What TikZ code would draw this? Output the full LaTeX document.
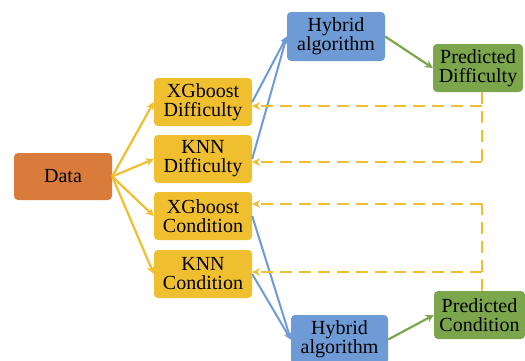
\documentclass[tikz,border=0pt]{standalone}
\usepackage{fontspec}
\setmainfont{Liberation Serif}
\newfontfamily\boxfont{Liberation Serif}
\usetikzlibrary{arrows.meta}
\definecolor{dorange}{HTML}{D97B3B}
\definecolor{dyellow}{HTML}{F0BF2F}
\definecolor{dblue}{HTML}{6E9BD6}
\definecolor{dgreen}{HTML}{7BA64C}
\tikzset{
  box/.style={rounded corners=4pt, minimum width=98pt, minimum height=48pt, align=center, inner sep=0pt,
    font=\boxfont\fontsize{20}{19}\selectfont},
  ybox/.style={box, fill=dyellow},
  yarrow/.style={draw=dyellow, line width=2.2pt, -{Stealth[length=8pt,width=8pt]}},
  barrow/.style={draw=dblue, line width=2pt, -{Stealth[length=7pt,width=7pt]}},
  garrow/.style={draw=dgreen, line width=2.2pt, -{Stealth[length=8pt,width=8pt]}},
  dline/.style={draw=dyellow, line width=2.8pt, dash pattern=on 12pt off 7pt},
  darrow/.style={dline, -{Stealth[length=8pt,width=8pt]}}
}
\begin{document}
\begin{tikzpicture}[x=1pt,y=-1pt]
\useasboundingbox (0,0) rectangle (525,360);
\node[box, fill=dorange, minimum height=47pt] (data) at (63,176.5) {Data};
\node[ybox] (xd) at (203,102) {XGboost\\Difficulty};
\node[ybox] (kd) at (203,159) {KNN\\Difficulty};
\node[ybox] (xc) at (203,216) {XGboost\\Condition};
\node[ybox] (kc) at (203,274) {KNN\\Condition};
\node[box, fill=dblue, minimum height=49pt] (h1) at (336,36.5) {Hybrid\\algorithm};
\node[box, fill=dblue, minimum height=49pt, minimum width=97pt] (h2) at (339.5,339.5) {Hybrid\\algorithm};
\node[box, fill=dgreen, minimum width=90pt] (pd) at (478,68) {Predicted\\Difficulty};
\node[box, fill=dgreen, minimum width=91pt] (pc) at (479.5,315) {Predicted\\Condition};

\foreach \t in {xd,kd,xc,kc} \draw[yarrow] (data.east) -- (\t.west);
\draw[barrow] (xd.east) -- (h1.west);
\draw[barrow] (kd.east) -- (h1.west);
\draw[barrow] (xc.east) -- (h2.west);
\draw[barrow] (kc.east) -- (h2.west);
\draw[garrow] (h1.east) -- (pd.west);
\draw[garrow] (h2.east) -- (pc.west);

\coordinate (t0) at (482,92);
\coordinate (t1) at (482,106);
\coordinate (t2) at (482,162);
\draw[dline] (t0) -- (t2);
\draw[darrow] (t1) -- (xd.east |- t1);
\draw[darrow] (t2) -- (kd.east |- t2);
\coordinate (b0) at (482,291);
\coordinate (b1) at (482,204);
\coordinate (b2) at (482,272);
\draw[dline] (b0) -- (b1);
\draw[darrow] (b1) -- (xc.east |- b1);
\draw[darrow] (b2) -- (kc.east |- b2);
\end{tikzpicture}
\end{document}
